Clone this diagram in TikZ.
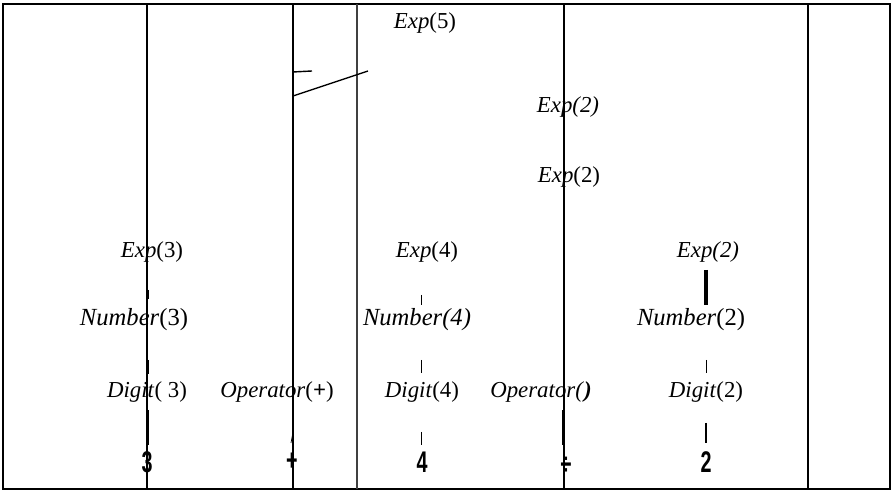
\documentclass[tikz,border=0pt]{standalone}
\usepackage{fontspec}
\setmainfont{Liberation Serif}
\newfontfamily\leaffont[FakeStretch=0.66]{Liberation Sans}
\usetikzlibrary{calc}
\tikzset{
  lbl/.style={inner sep=1pt, font=\fontsize{13}{15}\selectfont},
  leaf/.style={inner sep=1pt, font=\leaffont\bfseries\fontsize{17}{19}\selectfont},
  tick/.style={line width=0.4pt},
  stem/.style={line width=1.3pt},
  rule/.style={line width=0.8pt}
}
\begin{document}
\begin{tikzpicture}[x=0.02cm,y=-0.02cm]
        \useasboundingbox (0,0) rectangle (893,492);
        % Frame and columns
            \draw[line width=1.1pt] (3,4) rectangle (890,489);
            \foreach \x in {147,293,564,808}
                \draw[rule] (\x,4) -- (\x,489);
            \draw[rule,black!75] (357,4) -- (357,489);
            \coordinate (cA) at (148,0);
            \coordinate (cB) at (292,0);
            \coordinate (cC) at (421,0);
            \coordinate (cD) at (563,0);
            \coordinate (cE) at (706,0);
        % Expressions
            \node[lbl] (e5) at (425,23) {\textit{Exp}(5)};
            \node[lbl] (e2a) at (568,107) {\textit{Exp(2)}};
            \node[lbl] (e2b) at (569,177) {\textit{Exp}(2)};
            \node[lbl] (e3) at (152,252) {\textit{Exp}(3)};
            \node[lbl] (e4) at (427,252) {\textit{Exp}(4)};
            \node[lbl] (e2c) at (708,252) {\textit{Exp(2)}};
        % Numbers
            \node[lbl,font=\fontsize{14}{16}\selectfont] (n3) at (134,320) {\textit{Number}(3)};
            \node[lbl,font=\fontsize{14}{16}\selectfont] (n4) at (417,320) {\textit{Number(4)}};
            \node[lbl,font=\fontsize{14}{16}\selectfont] (n2) at (691,320) {\textit{Number}(2)};
        % Digits and operators
            \node[lbl] (d3) at (147,392) {\textit{Digit}( 3)};
            \node[lbl] (opp) at (277,392) {\textit{Operator}(\textbf{+})};
            \node[lbl] (d4) at (422,392) {\textit{Digit}(4)};
            \node[lbl] (opd) at (541,392) {\textit{Operator(}\textbf{\textit{)}}};
            \node[lbl] (d2) at (706,392) {\textit{Digit}(2)};
        % Leaves
            \node[leaf] (l3) at (147,462) {3};
            \node[leaf] (lp) at (292,462) {+};
            \node[leaf] (l4) at (422,462) {4};
            \node[leaf] (ld) at (566,466) {÷};
            \node[leaf] (l2) at (706,462) {2};
        % Links
            \draw[line width=0.8pt] (293,72) -- (312,71);
            \draw[line width=0.8pt] (293,96) -- (368,71);
            \draw[tick] ($(e3 -| cA)+(0,38)$) -- ($(n3 -| cA)+(0,-21)$);
            \draw[tick] ($(n3 -| cA)+(0,40)$) -- ($(d3 -| cA)+(0,-18)$);
            \draw[stem] ($(d3 -| cA)+(0,18)$) -- ($(l3 -| cA)+(0,-17)$);
            \draw[tick] ($(opp -| cB)+(1,40)$) -- ($(lp -| cB)+(-1,-19)$);
            \draw[tick] ($(e4 -| cC)+(0,43)$) -- ($(n4 -| cC)+(0,-15)$);
            \draw[tick] ($(n4 -| cC)+(0,40)$) -- ($(d4 -| cC)+(0,-19)$);
            \draw[tick] ($(d4 -| cC)+(0,40)$) -- ($(l4 -| cC)+(0,-17)$);
            \draw[stem] ($(opd -| cD)+(0,18)$) -- ($(ld -| cD)+(0,-21)$);
            \draw[line width=1.8pt] ($(e2c -| cE)+(0,18)$) -- ($(n2 -| cE)+(0,-15)$);
            \draw[tick] ($(n2 -| cE)+(0,40)$) -- ($(d2 -| cE)+(0,-19)$);
            \draw[stem] ($(d2 -| cE)+(0,31)$) -- ($(l2 -| cE)+(0,-19)$);
\end{tikzpicture}
\end{document}
